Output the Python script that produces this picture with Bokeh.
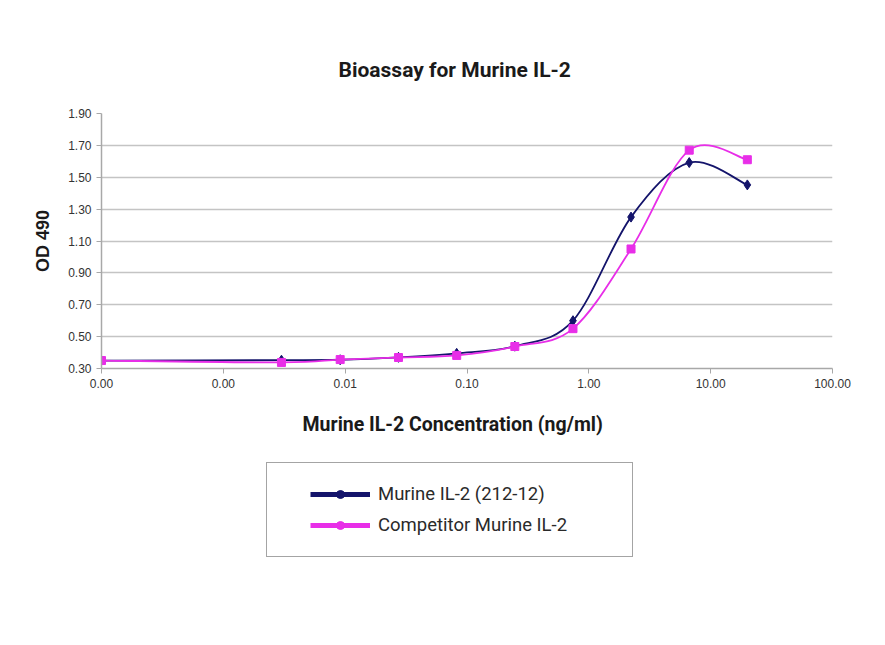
import numpy as np
from bokeh.plotting import figure
from bokeh.layouts import column
from bokeh.models import (Range1d, FixedTicker, PrintfTickFormatter, Legend,
                          LegendItem, ColumnDataSource, Label)
from bokeh.embed import file_html
from bokeh.resources import INLINE

# ---- data ----
conc = [0.0001, 0.0030, 0.0091, 0.0274, 0.0823, 0.247, 0.741, 2.22, 6.67, 20.0]
od_murine = [0.350, 0.352, 0.355, 0.370, 0.395, 0.440, 0.600, 1.250, 1.592, 1.452]
od_competitor = [0.350, 0.338, 0.356, 0.369, 0.382, 0.438, 0.550, 1.050, 1.670, 1.610]

series_names = ["Murine IL-2 (212-12)", "Competitor Murine IL-2"]
x_ticks = [0.0001, 0.001, 0.01, 0.1, 1, 10, 100]
x_tick_labels = ["0.00", "0.00", "0.01", "0.10", "1.00", "10.00", "100.00"]
y_ticks = [0.30, 0.50, 0.70, 0.90, 1.10, 1.30, 1.50, 1.70, 1.90]

BLUE = "#14146b"
PINK = "#e82ee8"
GRID = "#c4c4c4"
AXIS = "#a8a8a8"
TEXT = "#333333"

W = 869
H_TOP = 398
H_BOTTOM = 231


def smooth_segments(xs, ys):
    """Catmull-Rom style smoothing (as a spreadsheet 'smoothed line') in log-x space."""
    u = np.log10(np.asarray(xs, dtype=float))
    v = np.asarray(ys, dtype=float)
    uu = np.concatenate([[u[0]], u, [u[-1]]])
    vv = np.concatenate([[v[0]], v, [v[-1]]])
    d = dict(x0=[], y0=[], x1=[], y1=[], cx0=[], cy0=[], cx1=[], cy1=[])
    for i in range(len(u) - 1):
        p0u, p1u, p2u, p3u = uu[i:i + 4]
        p0v, p1v, p2v, p3v = vv[i:i + 4]
        d["x0"].append(10 ** p1u)
        d["y0"].append(p1v)
        d["x1"].append(10 ** p2u)
        d["y1"].append(p2v)
        d["cx0"].append(10 ** (p1u + (p2u - p0u) / 6))
        d["cy0"].append(p1v + (p2v - p0v) / 6)
        d["cx1"].append(10 ** (p2u - (p3u - p1u) / 6))
        d["cy1"].append(p2v - (p3v - p1v) / 6)
    return ColumnDataSource(d)


# ================= chart =================
p = figure(width=W, height=H_TOP, x_axis_type="log",
           x_range=Range1d(0.0001, 100), y_range=Range1d(0.30, 1.90),
           output_backend="svg", toolbar_location=None,
           min_border_left=101, min_border_right=37,
           min_border_top=113, min_border_bottom=30)
p.background_fill_color = "white"
p.border_fill_color = "white"
p.outline_line_color = None

p.title.text = "Bioassay for Murine IL-2"
p.title.align = "left"
p.title.offset = 237
p.title.text_font = "Roboto"
p.title.text_font_size = "21px"
p.title.text_font_style = "bold"
p.title.text_color = "#1a1a1a"
p.title.standoff = 64

p.xgrid.visible = False
p.ygrid.ticker = FixedTicker(ticks=y_ticks)
p.ygrid.grid_line_color = GRID
p.ygrid.grid_line_width = 1.5

p.yaxis.ticker = FixedTicker(ticks=y_ticks)
p.yaxis.formatter = PrintfTickFormatter(format="%.2f")
p.yaxis.axis_label = "OD 490"
p.yaxis.axis_label_text_font = "Liberation Sans"
p.yaxis.axis_label_text_font_size = "18px"
p.yaxis.axis_label_text_font_style = "bold"
p.yaxis.axis_label_text_color = "#1a1a1a"
p.yaxis.axis_label_standoff = 12

p.xaxis.ticker = FixedTicker(ticks=x_ticks, minor_ticks=[])
p.xaxis.major_label_overrides = {t: lab for t, lab in zip(x_ticks, x_tick_labels)}

for ax in (p.xaxis, p.yaxis):
    ax.axis_line_color = AXIS
    ax.axis_line_width = 1.5
    ax.major_tick_line_color = AXIS
    ax.major_tick_in = 0
    ax.major_tick_out = 5
    ax.minor_tick_line_color = None
    ax.major_label_text_font = "Liberation Sans"
    ax.major_label_text_font_size = "12px"
    ax.major_label_text_color = TEXT
    ax.major_label_standoff = 5

src_m = smooth_segments(conc, od_murine)
src_c = smooth_segments(conc, od_competitor)
p.bezier(x0="x0", y0="y0", x1="x1", y1="y1", cx0="cx0", cy0="cy0", cx1="cx1", cy1="cy1",
         source=src_m, line_color=BLUE, line_width=1.8)
p.bezier(x0="x0", y0="y0", x1="x1", y1="y1", cx0="cx0", cy0="cy0", cx1="cx1", cy1="cy1",
         source=src_c, line_color=PINK, line_width=1.8)

p.scatter(conc, od_murine, marker="diamond", size=10, fill_color=BLUE, line_color=BLUE)
p.scatter(conc, od_competitor, marker="square", size=8, fill_color=PINK, line_color=PINK)

# ================= x title + legend area =================
q = figure(width=W, height=H_BOTTOM, x_range=Range1d(0, W), y_range=Range1d(0, H_BOTTOM),
           output_backend="svg", toolbar_location=None,
           x_axis_location=None, y_axis_location=None,
           min_border_left=0, min_border_right=0, min_border_top=0, min_border_bottom=0)
q.background_fill_color = "white"
q.border_fill_color = "white"
q.outline_line_color = None
q.grid.visible = False

q.add_layout(Label(x=201, y=H_BOTTOM - 26, x_units="screen", y_units="screen",
                   text="Murine IL-2 Concentration (ng/ml)", text_font="Roboto",
                   text_font_size="19.5px", text_font_style="bold", text_color="#1a1a1a",
                   text_align="left", text_baseline="middle"))

lm = q.line([np.nan], [np.nan], line_color=BLUE, line_width=5)
sm = q.scatter([np.nan], [np.nan], marker="circle", size=12, fill_color=BLUE, line_color=BLUE)
lc = q.line([np.nan], [np.nan], line_color=PINK, line_width=5)
sc = q.scatter([np.nan], [np.nan], marker="circle", size=12, fill_color=PINK, line_color=PINK)

legend = Legend(items=[LegendItem(label=series_names[0], renderers=[lm, sm]),
                       LegendItem(label=series_names[1], renderers=[lc, sc])],
                location=(165, 72))
legend.title = " "
legend.title_location = "left"
legend.title_text_font_size = "4px"
legend.title_standoff = 18
legend.glyph_width = 60
legend.glyph_height = 20
legend.label_height = 20
legend.spacing = 9
legend.padding = 20
legend.margin = 0
legend.label_standoff = 8
legend.label_width = 234
legend.label_text_font = "Roboto"
legend.label_text_font_size = "18.5px"
legend.label_text_color = "#2a2a2a"
legend.border_line_color = "#4a4a4a"
legend.border_line_width = 1.2
legend.background_fill_color = "white"
legend.background_fill_alpha = 1
q.add_layout(legend, "center")

layout = column(p, q, spacing=0)
open("out.html", "w").write(file_html(layout, INLINE))
